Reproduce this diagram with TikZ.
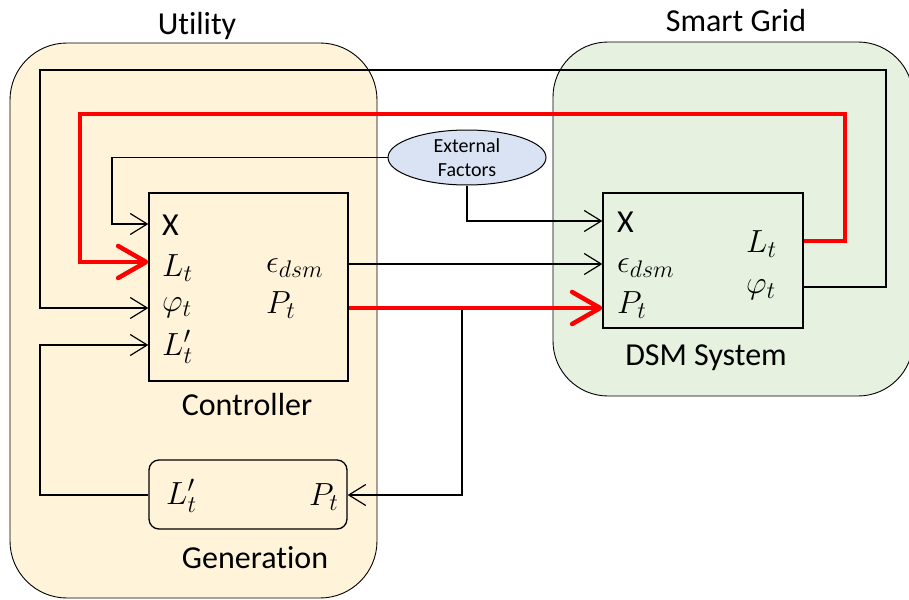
\RequirePackage{fix-cm}
\documentclass[tikz,border=0pt]{standalone}
\usepackage{fontspec}
\setmainfont[Ligatures=NoCommon]{Carlito}
\DeclareMathSizes{32}{32}{24}{19}
\usetikzlibrary{arrows.meta,shapes.geometric}
\definecolor{utilfill}{HTML}{FFF4D9}
\definecolor{gridfill}{HTML}{E6F1E0}
\definecolor{effill}{HTML}{DAE3F3}
\begin{document}
\begin{tikzpicture}[x=1pt,y=-1pt,
  container/.style={draw=black, line width=0.9pt, rounded corners=57pt, inner sep=0pt},
  blk/.style={draw=black, line width=1.3pt, inner sep=0pt},
  lbl/.style={font=\fontsize{32}{38}\selectfont, inner sep=0pt, anchor=base},
  mth/.style={font=\fontsize{32}{38}\selectfont, inner sep=0pt, anchor=west},
  conn/.style={draw=black, line width=1.2pt, -{Straight Barb[length=17pt,width=21pt]}},
  rconn/.style={draw=red, line width=4.5pt, -{Straight Barb[length=28pt,width=32pt,round]}}]
\useasboundingbox (0,0) rectangle (909,599);

% containers
\node[container, fill=utilfill, minimum width=367pt, minimum height=555pt] (util) at (193.5,320.5) {};
\node[container, fill=gridfill, minimum width=360pt, minimum height=354pt, rounded corners=55pt] (grid) at (733,219) {};
\node[lbl] (utillbl) at (197,35) {Utility};
\node[lbl] (gridlbl) at (736,32) {Smart Grid};

% blocks
\node[blk, minimum width=199pt, minimum height=188pt] (ctrl) at (248.5,287) {};
\node[blk, minimum width=200pt, minimum height=135pt] (dsm) at (703,260.5) {};
\node[blk, minimum width=198pt, minimum height=69pt, rounded corners=10pt] (gen) at (248,494.5) {};
\node[ellipse, draw=black, line width=1pt, fill=effill, minimum width=158pt, minimum height=55pt, inner sep=0pt,
      align=center, font=\fontsize{20}{24}\selectfont] (ef) at (467,157.5) {External\\Factors};

\node[lbl] (ctrllbl) at (247,415) {Controller};
\node[lbl] (genlbl) at (255,568) {Generation};
\node[lbl] (dsmlbl) at (706,365) {DSM System};

% controller texts
\node[mth] (cXt) at (162,225) {X};
\node[mth] (cLt) at (162,268) {$L_t$};
\node[mth] (cPhit) at (162,308) {$\varphi_t$};
\node[mth] (cL2t) at (162,347) {$L'_t$};
\node[mth] (cEpst) at (266,268) {$\epsilon_{dsm}$};
\node[mth] (cPt) at (266,305) {$P_t$};

% generation texts
\node[mth] (gLt) at (166,496) {$L'_t$};
\node[mth] (gPt) at (309,497) {$P_t$};

% DSM texts
\node[mth] (dXt) at (617,222) {X};
\node[mth] (dEpst) at (617,268) {$\epsilon_{dsm}$};
\node[mth] (dPt) at (617,305) {$P_t$};
\node[mth] (dLt) at (746,244) {$L_t$};
\node[mth] (dPhit) at (746,290) {$\varphi_t$};

% ports
\coordinate (cX) at (ctrl.west |- 0,224);
\coordinate (cL) at (ctrl.west |- 0,262);
\coordinate (cPhi) at (ctrl.west |- 0,308);
\coordinate (cL2) at (ctrl.west |- 0,345);
\coordinate (cEps) at (ctrl.east |- 0,264);
\coordinate (cP) at (ctrl.east |- 0,308);
\coordinate (dX) at (dsm.west |- 0,221);
\coordinate (dEps) at (dsm.west |- 0,264);
\coordinate (dP) at (dsm.west |- 0,308);
\coordinate (dL) at (dsm.east |- 0,241);
\coordinate (dPhi) at (dsm.east |- 0,287);
\coordinate (gL) at (gen.west |- 0,495);
\coordinate (gP) at (gen.east |- 0,495);
\coordinate (tap) at (462,308);

% connectors
\draw[conn] (dPhi) -- (886,287) -- (886,70) -- (40,70) -- (40,308) -- (cPhi);
\draw[rconn] (dL) -- (845,241) -- (845,114) -- (80,114) -- (80,262) -- (cL);
\draw[conn] (ef.west) -| (112,224) -- (cX);
\draw[conn] (ef.south) |- (dX);
\draw[conn] (cEps) -- (dEps);
\draw[conn] (tap) |- (gP);
\draw[rconn] (cP) -- (dP);
\draw[conn] (gL) -| (40,345) -- (cL2);
\end{tikzpicture}
\end{document}
